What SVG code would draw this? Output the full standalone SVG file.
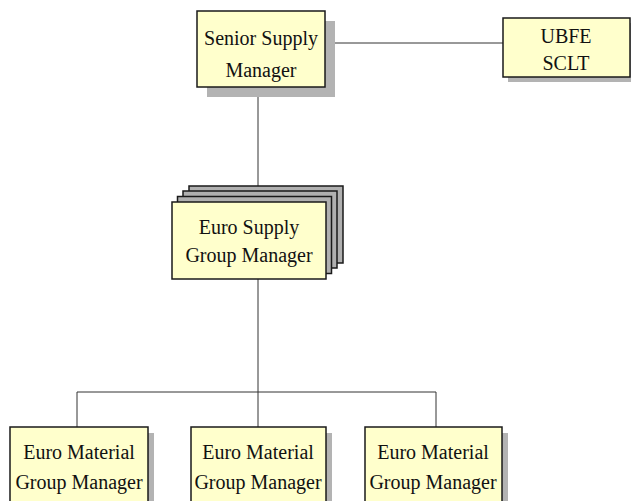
<svg xmlns="http://www.w3.org/2000/svg" width="631" height="501" viewBox="0 0 631 501">
  <style>
    .box { fill: #ffffcc; stroke: #1a1a1a; stroke-width: 1.5; }
    .shadow { fill: #b3b3b3; stroke: none; }
    .layer { fill: #b0b0b0; stroke: #1a1a1a; stroke-width: 1.5; }
    .wire { fill: none; stroke: #333333; stroke-width: 1; }
    .label { font-size: 20px; fill: #111111; text-anchor: middle; }
  </style>
  <rect width="631" height="501" fill="#ffffff"/>

  <g id="connectors">
    <line class="wire" x1="325" y1="43" x2="503" y2="43"/>
    <line class="wire" x1="258" y1="87" x2="258" y2="186"/>
    <line class="wire" x1="258" y1="279" x2="258" y2="427"/>
    <polyline class="wire" points="77,427 77,392 436,392 436,427"/>
  </g>

  <g font-family="'Liberation Serif', 'Times New Roman', Times, serif">
    <g id="senior-supply-manager">
      <rect class="shadow" x="207" y="21" width="128" height="76"/>
      <rect class="box" x="197" y="11" width="128" height="76"/>
      <text class="label" x="261" y="45">Senior Supply</text>
      <text class="label" x="261" y="77">Manager</text>
    </g>

    <g id="ubfe-sclt">
      <rect class="shadow" x="508" y="23" width="127" height="59"/>
      <rect class="box" x="503" y="18" width="127" height="59"/>
      <text class="label" x="566" y="43">UBFE</text>
      <text class="label" x="566" y="70">SCLT</text>
    </g>

    <g id="euro-supply-group-manager">
      <rect class="layer" x="189" y="186" width="154" height="77"/>
      <rect class="layer" x="183" y="191" width="154" height="77"/>
      <rect class="layer" x="177.5" y="196.5" width="154" height="77"/>
      <rect class="box" x="172" y="202" width="154" height="77"/>
      <text class="label" x="249" y="234">Euro Supply</text>
      <text class="label" x="249" y="262">Group Manager</text>
    </g>

    <g id="euro-material-group-manager-1">
      <rect class="shadow" x="16" y="433" width="138" height="80"/>
      <rect class="box" x="10" y="427" width="138" height="80"/>
      <text class="label" x="79" y="459">Euro Material</text>
      <text class="label" x="79" y="489">Group Manager</text>
    </g>

    <g id="euro-material-group-manager-2">
      <rect class="shadow" x="197" y="433" width="135" height="80"/>
      <rect class="box" x="191" y="427" width="135" height="80"/>
      <text class="label" x="258" y="459">Euro Material</text>
      <text class="label" x="258" y="489">Group Manager</text>
    </g>

    <g id="euro-material-group-manager-3">
      <rect class="shadow" x="371" y="433" width="137" height="80"/>
      <rect class="box" x="365" y="427" width="137" height="80"/>
      <text class="label" x="433" y="459">Euro Material</text>
      <text class="label" x="433" y="489">Group Manager</text>
    </g>
  </g>
</svg>
